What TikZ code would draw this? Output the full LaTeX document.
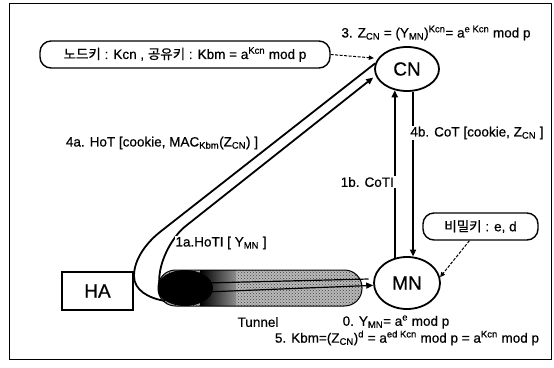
\documentclass[tikz,border=0pt]{standalone}
\usepackage{fontspec}
\setmainfont{Liberation Sans}[FakeBold=0.6]
\newfontfamily\kr{Noto Sans CJK KR}[FakeBold=0.8]
\usetikzlibrary{arrows.meta,patterns,shapes.geometric}
\newcommand\lowtx[1]{\textsubscript{#1}}
\newcommand\hightx[1]{\textsuperscript{#1}}

\begin{document}
\begin{tikzpicture}[x=1pt,y=-1pt,
  lbl/.style={font=\fontsize{13.5}{16}\selectfont, inner sep=1pt},
  cut/.style={lbl, fill=white},
  big/.style={font=\fontsize{19}{22}\selectfont},
  party/.style={draw, ellipse, line width=1.8pt, inner sep=0pt, big},
  msg/.style={line width=1.8pt},
  thin msg/.style={line width=1.2pt},
  tip/.style={-{Triangle[length=7pt,width=6pt]}},
  note/.style={draw, line width=1.4pt, rounded corners=11pt, inner sep=0pt,
    minimum height=27pt, lbl},
  hint/.style={dash pattern=on 3pt off 1.5pt, line width=1pt,
    -{Triangle[length=5pt,width=4.5pt]}},
]
\useasboundingbox (0,0) rectangle (554,367);
\draw[line width=1pt] (9,3) rectangle (551,359);

% tunnel between the home agent and the mobile node
\begin{scope}
  \path[clip, rounded corners=17.5pt] (158,270) rectangle (362,306);
  \fill[gray!55] (158,270) rectangle (362,306);
  \fill[pattern=crosshatch dots, pattern color=black!75] (158,270) rectangle (362,306);
  \shade[left color=black, right color=black!45] (200,270) rectangle (236,306);
  \fill[black] (185,288) ellipse [x radius=28, y radius=18];
\end{scope}
\draw[line width=1pt, rounded corners=17.5pt] (158,270) rectangle (362,306);

% parties
\node[party, minimum width=64pt, minimum height=44pt] (CN) at (407,69) {CN};
\node[party, minimum width=66pt, minimum height=52pt] (MN) at (407,283) {MN};
\node[draw, line width=1.3pt, minimum width=71pt, minimum height=38pt, big] (HA) at (97.5,291) {HA};

% anchor points inside the tunnel
\coordinate (hookA) at (165,301);
\coordinate (hookB) at (160,290);
\coordinate (t1) at (205,283);
\coordinate (t2) at (205,292);

% home test messages via the home agent
\draw[msg] (hookA) .. controls (148,298) and (134,290) .. (134,276)
  .. controls (134,258) and (148,241.5) .. (160,232) -- (CN.170);
\draw[msg, tip, shorten >=3pt] (hookB) .. controls (155,265) and (173,236)
  .. (185,226.6) -- (CN.192);

% tunnelled traffic into the mobile node
\draw[thin msg, shorten >=5pt] (t1) -- (MN.173);
\draw[thin msg, tip] (t2) -- (MN.184);

% care-of test messages
\draw[msg, tip] (MN.116) -- (MN.116 |- CN.240);
\draw[msg, tip] (CN.285) -- (CN.285 |- MN.77);

% key notes
\node[note, minimum width=290pt] (keys) at (185,54.5)
  {{\kr 노드키} : Kcn , {\kr 공유키} : Kbm = a\hightx{Kcn} mod p};
\node[note, minimum width=115pt] (secret) at (480.5,226.5) {{\kr 비밀키} : e, d};
\draw[hint, shorten >=4pt] (keys.east) -- (CN.160);
\draw[hint] (secret.232) -- (MN.10);

% message labels
\node[lbl] (l3) at (436,33)
  {3. Z\lowtx{CN} = (Y\lowtx{MN})\hightx{Kcn}= a\hightx{e Kcn} mod p};
\node[cut] (l4a) at (162,143)
  {4a. HoT [cookie, MAC\lowtx{Kbm}(Z\lowtx{CN}) ]};
\node[cut] (l4b) at (477,133) {4b. CoT [cookie, Z\lowtx{CN} ]};
\node[cut, anchor=east] (l1b) at (400,182) {1b. CoTI\hspace*{5pt}};
\node[cut] (l1a) at (221,243) {1a.HoTI [ Y\lowtx{MN} ]};
\node[lbl] (tun) at (258,322) {Tunnel};
\node[lbl] (l0) at (396,322) {0. Y\lowtx{MN}= a\hightx{e} mod p};
\node[lbl] (l5) at (407,338)
  {5. Kbm=(Z\lowtx{CN})\hightx{d} = a\hightx{ed Kcn} mod p = a\hightx{Kcn} mod p};
\end{tikzpicture}
\end{document}
